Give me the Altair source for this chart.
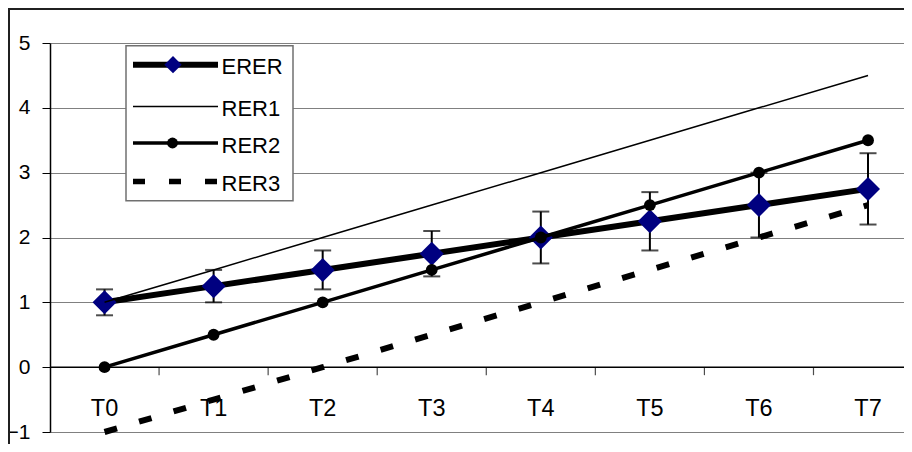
import altair as alt
import pandas as pd

# ---- data ----
categories = ["T0", "T1", "T2", "T3", "T4", "T5", "T6", "T7"]
erer = [1.0, 1.25, 1.5, 1.75, 2.0, 2.25, 2.5, 2.75]
erer_low = [0.8, 1.0, 1.2, 1.4, 1.6, 1.8, 2.0, 2.2]
erer_high = [1.2, 1.5, 1.8, 2.1, 2.4, 2.7, 3.0, 3.3]
rer1 = [1.0, 1.5, 2.0, 2.5, 3.0, 3.5, 4.0, 4.5]
rer2 = [0.0, 0.5, 1.0, 1.5, 2.0, 2.5, 3.0, 3.5]
rer3 = [-1.0, -0.5, 0.0, 0.5, 1.0, 1.5, 2.0, 2.5]
y_ticks = [-1, 0, 1, 2, 3, 4, 5]
series_names = ["ERER", "RER1", "RER2", "RER3"]

FONT = "Liberation Sans"

df = pd.DataFrame({
    "cat": categories,
    "i": list(range(len(categories))),
    "ERER": erer, "lo": erer_low, "hi": erer_high,
    "RER1": rer1, "RER2": rer2, "RER3": rer3,
})
bounds = pd.DataFrame({"b": [k + 0.5 for k in range(len(categories) - 1)]})

PLOT_W = 854
xs = alt.Scale(domain=[-0.5, -0.5 + PLOT_W / 109.07], nice=False, zero=False)
ys = alt.Scale(domain=[-1, 5], nice=False, zero=False)
X = alt.X("i:Q", scale=xs, axis=None)

base = alt.Chart(df)

# y axis + grid (drawn from an invisible layer)
axis_layer = base.mark_point(opacity=0).encode(
    x=X,
    y=alt.Y("ERER:Q", scale=ys, title=None,
            axis=alt.Axis(values=y_ticks, format="d", grid=True,
                          gridColor="#808080", gridWidth=1,
                          domainColor="black", domainWidth=1.5,
                          tickColor="black", tickSize=8, tickWidth=1,
                          labelFont=FONT, labelFontSize=21, labelColor="black",
                          labelPadding=12)),
)

zero_line = alt.Chart(pd.DataFrame({"z": [0]})).mark_rule(color="black", strokeWidth=1.5).encode(
    y=alt.Y("z:Q", scale=ys)
)
cat_ticks = alt.Chart(bounds).mark_tick(orient="vertical", size=8, thickness=1.2,
                                        color="black", yOffset=4).encode(
    x=alt.X("b:Q", scale=xs, axis=None),
    y=alt.datum(0, scale=ys),
)
x_labels = base.mark_text(font=FONT, fontSize=23.5, color="black",
                          baseline="alphabetic", align="center").encode(
    x=X, y=alt.value(372.6), text="cat:N"
)

erer_line = base.mark_line(color="black", strokeWidth=6).encode(
    x=X, y=alt.Y("ERER:Q", scale=ys))
err_rule = base.mark_rule(color="black", strokeWidth=2).encode(
    x=X, y=alt.Y("lo:Q", scale=ys), y2="hi:Q")
err_cap_lo = base.mark_tick(orient="horizontal", size=17, thickness=2, color="black").encode(
    x=X, y=alt.Y("lo:Q", scale=ys))
err_cap_hi = base.mark_tick(orient="horizontal", size=17, thickness=2, color="black").encode(
    x=X, y=alt.Y("hi:Q", scale=ys))
erer_pts = base.mark_point(shape="diamond", filled=True, size=576, color="#000080",
                           opacity=1).encode(x=X, y=alt.Y("ERER:Q", scale=ys))

rer1_line = base.mark_line(color="black", strokeWidth=1.5).encode(
    x=X, y=alt.Y("RER1:Q", scale=ys))
rer2_line = base.mark_line(color="black", strokeWidth=3.5).encode(
    x=X, y=alt.Y("RER2:Q", scale=ys))
rer2_pts = base.mark_point(shape="circle", filled=True, size=140, color="black",
                           opacity=1).encode(x=X, y=alt.Y("RER2:Q", scale=ys))
rer3_line = base.mark_line(color="black", strokeWidth=6, strokeDash=[13, 23]).encode(
    x=X, y=alt.Y("RER3:Q", scale=ys))

# ---- legend (layout in pixels) ----
one = pd.DataFrame({"k": [0]})
leg_box = alt.Chart(one).mark_rect(fill="white", stroke="#707070", strokeWidth=1.5).encode(
    x=alt.value(76), x2=alt.value(243), y=alt.value(2.7), y2=alt.value(157.7))
leg_y = [21.7, 63.4, 100.0, 138.4]
leg_styles = [
    dict(strokeWidth=6),
    dict(strokeWidth=1.5),
    dict(strokeWidth=3.5),
    dict(strokeWidth=5.5, strokeDash=[12, 24]),
]
legend_layers = [leg_box]
for name, ly, st in zip(series_names, leg_y, leg_styles):
    d = pd.DataFrame({"name": [name]})
    legend_layers.append(
        alt.Chart(d).mark_rule(color="black", **st).encode(
            x=alt.value(83), x2=alt.value(168), y=alt.value(ly)))
    legend_layers.append(
        alt.Chart(d).mark_text(font=FONT, fontSize=22, color="black",
                               align="left", baseline="alphabetic").encode(
            x=alt.value(171.5), y=alt.value(ly + 9.5), text="name:N"))
legend_layers.append(
    alt.Chart(one).mark_point(shape="diamond", filled=True, size=300, color="#000080",
                              opacity=1).encode(x=alt.value(123), y=alt.value(leg_y[0])))
legend_layers.append(
    alt.Chart(one).mark_point(shape="circle", filled=True, size=120, color="black",
                              opacity=1).encode(x=alt.value(122.5), y=alt.value(leg_y[2])))

# ---- outer chart-area border (top & left visible in reference) ----
border_top = alt.Chart(one).mark_rule(color="#202020", strokeWidth=2).encode(
    x=alt.value(-42), x2=alt.value(PLOT_W), y=alt.value(-34))
border_left = alt.Chart(one).mark_rule(color="#202020", strokeWidth=2).encode(
    x=alt.value(-41), y=alt.value(-35), y2=alt.value(420))

chart = alt.layer(
    axis_layer, zero_line, cat_ticks, x_labels,
    erer_line, err_rule, err_cap_lo, err_cap_hi, erer_pts,
    rer1_line, rer2_line, rer2_pts, rer3_line,
    *legend_layers, border_top, border_left,
).properties(
    width=PLOT_W, height=389,
    autosize=alt.AutoSizeParams(type="none"),
    padding={"left": 42, "top": 35, "right": 0, "bottom": 12},
).configure_view(strokeWidth=0).configure(background="white")

chart.save("out.html", embed_options={"renderer": "svg", "actions": False})
